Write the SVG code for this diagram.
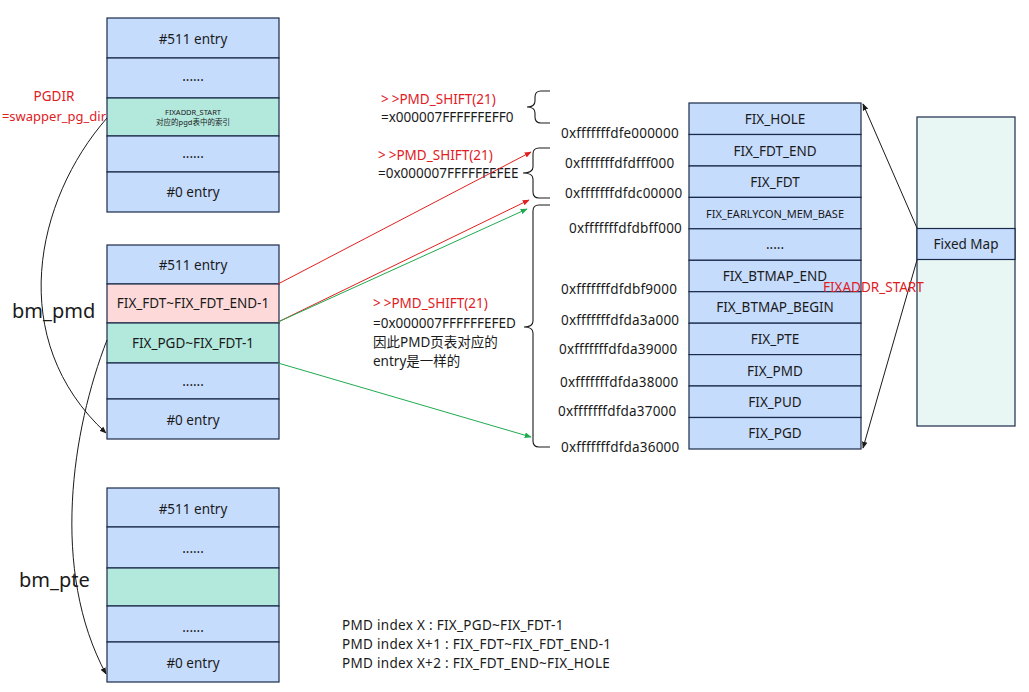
<svg xmlns="http://www.w3.org/2000/svg" width="1029" height="692" viewBox="0 0 1029 692">
<style>
text{font-family:"Noto Sans","Noto Sans CJK SC",sans-serif;fill:#1a1a1a;font-size:13.5px}
.c{text-anchor:middle}
.red{fill:#e0201f}
.b{fill:#c6dcfd;stroke:#1b2a4a;stroke-width:1.2}
.g{fill:#b3e8dd;stroke:#1b2a4a;stroke-width:1.2}
.p{fill:#fdd9d9;stroke:#1b2a4a;stroke-width:1.2}
.l{fill:#e8f7f4;stroke:#1b2a4a;stroke-width:1.2}
.big{font-size:20px}
.addr{font-size:13.5px;letter-spacing:0.2px}
.note{font-size:13.5px;letter-spacing:0.3px}
</style>
<defs>
<marker id="ak" viewBox="0 0 10 10" refX="9" refY="5" markerWidth="7" markerHeight="7" orient="auto-start-reverse"><path d="M0,1 L10,5 L0,9 Z" fill="#1a1a1a"/></marker>
<marker id="ar" viewBox="0 0 10 10" refX="9" refY="5" markerWidth="7" markerHeight="7" orient="auto"><path d="M0,1 L10,5 L0,9 Z" fill="#e0201f"/></marker>
<marker id="ag" viewBox="0 0 10 10" refX="9" refY="5" markerWidth="7" markerHeight="7" orient="auto"><path d="M0,1 L10,5 L0,9 Z" fill="#1faa4f"/></marker>
</defs>
<rect width="1029" height="692" fill="#ffffff"/>

<g id="pgd-table">
<rect class="b" x="107" y="18" width="172" height="40"/>
<rect class="b" x="107" y="58" width="172" height="40"/>
<rect class="g" x="107" y="98" width="172" height="38"/>
<rect class="b" x="107" y="136" width="172" height="36"/>
<rect class="b" x="107" y="172" width="172" height="40"/>
<text class="c" x="193" y="44">#511 entry</text>
<text class="c" x="193" y="81">......</text>
<text class="c" x="193" y="115" style="font-size:7.5px">FIXADDR_START</text>
<text class="c" x="193" y="125" style="font-size:7.5px">对应的pgd表中的索引</text>
<text class="c" x="193" y="158">......</text>
<text class="c" x="193" y="197">#0 entry</text>
</g>

<g id="pgdir-label">
<text class="c red" x="54" y="101">PGDIR</text>
<text class="c red" x="54" y="121" style="font-size:13px">=swapper_pg_dir</text>
</g>

<g id="pmd-table">
<rect class="b" x="107" y="245" width="172" height="39"/>
<rect class="p" x="107" y="284" width="172" height="39"/>
<rect class="g" x="107" y="323" width="172" height="40"/>
<rect class="b" x="107" y="363" width="172" height="36"/>
<rect class="b" x="107" y="399" width="172" height="40"/>
<text class="c" x="193" y="270">#511 entry</text>
<text class="c" x="193" y="308">FIX_FDT~FIX_FDT_END-1</text>
<text class="c" x="193" y="348">FIX_PGD~FIX_FDT-1</text>
<text class="c" x="193" y="386">......</text>
<text class="c" x="193" y="425">#0 entry</text>
</g>
<text class="big" x="12" y="318">bm_pmd</text>

<g id="pte-table">
<rect class="b" x="107" y="488" width="172" height="39"/>
<rect class="b" x="107" y="527" width="172" height="41"/>
<rect class="g" x="107" y="568" width="172" height="38"/>
<rect class="b" x="107" y="606" width="172" height="36"/>
<rect class="b" x="107" y="642" width="172" height="40"/>
<text class="c" x="193" y="514">#511 entry</text>
<text class="c" x="193" y="553">......</text>
<text class="c" x="193" y="632">......</text>
<text class="c" x="193" y="668">#0 entry</text>
</g>
<text class="big" x="19" y="587">bm_pte</text>

<g id="shift-notes">
<text x="381" y="104"><tspan class="red" letter-spacing="3">&gt;</tspan><tspan class="red">&gt;PMD_SHIFT(21)</tspan></text>
<text x="381" y="122">=x000007FFFFFFEFF0</text>
<text x="378" y="160"><tspan class="red" letter-spacing="3">&gt;</tspan><tspan class="red">&gt;PMD_SHIFT(21)</tspan></text>
<text x="378" y="178">=0x000007FFFFFFEFEE</text>
<text x="373" y="308"><tspan class="red" letter-spacing="3">&gt;</tspan><tspan class="red">&gt;PMD_SHIFT(21)</tspan></text>
<text x="373" y="328">=0x000007FFFFFFEFED</text>
<text x="373" y="347">因此PMD页表对应的</text>
<text x="373" y="366">entry是一样的</text>
</g>

<g id="braces" fill="none" stroke="#1a1a1a" stroke-width="1.1">
<path d="M550,91 H541 Q535,91 535,97 V101 Q535,107 527,107 Q535,107 535,113 V117 Q535,123 541,123 H550"/>
<path d="M550,148 H539 Q533,148 533,154 V167 Q533,173 523,173 Q533,173 533,179 V192 Q533,198 539,198 H550"/>
<path d="M550,205 H539 Q533,205 533,211 V321 Q533,327 524,327 Q533,327 533,333 V441 Q533,447 539,447 H550"/>
</g>

<g id="addresses" class="addr">
<text x="561" y="138">0xfffffffdfe000000</text>
<text x="565" y="168">0xfffffffdfdfff000</text>
<text x="565" y="198">0xfffffffdfdc00000</text>
<text x="569" y="233">0xfffffffdfdbff000</text>
<text x="561" y="294">0xfffffffdfdbf9000</text>
<text x="561" y="325">0xfffffffdfda3a000</text>
<text x="559" y="354">0xfffffffdfda39000</text>
<text x="560" y="387">0xfffffffdfda38000</text>
<text x="558" y="416">0xfffffffdfda37000</text>
<text x="561" y="452">0xfffffffdfda36000</text>
</g>

<g id="fixmap-table">
<rect class="b" x="689" y="103" width="172" height="31.5"/>
<rect class="b" x="689" y="134.5" width="172" height="31.5"/>
<rect class="b" x="689" y="166" width="172" height="31.4"/>
<rect class="b" x="689" y="197.4" width="172" height="31.4"/>
<rect class="b" x="689" y="228.8" width="172" height="31.5"/>
<rect class="b" x="689" y="260.3" width="172" height="31.4"/>
<rect class="b" x="689" y="291.7" width="172" height="31.5"/>
<rect class="b" x="689" y="323.2" width="172" height="31.4"/>
<rect class="b" x="689" y="354.6" width="172" height="31.4"/>
<rect class="b" x="689" y="386" width="172" height="31.5"/>
<rect class="b" x="689" y="417.5" width="172" height="31.5"/>
<text class="c" x="775" y="124">FIX_HOLE</text>
<text class="c" x="775" y="156">FIX_FDT_END</text>
<text class="c" x="775" y="187">FIX_FDT</text>
<text class="c" x="775" y="218" style="font-size:11px">FIX_EARLYCON_MEM_BASE</text>
<text class="c" x="775" y="249">.....</text>
<text class="c" x="775" y="281">FIX_BTMAP_END</text>
<text class="c" x="775" y="312">FIX_BTMAP_BEGIN</text>
<text class="c" x="775" y="344">FIX_PTE</text>
<text class="c" x="775" y="376">FIX_PMD</text>
<text class="c" x="775" y="407">FIX_PUD</text>
<text class="c" x="775" y="438">FIX_PGD</text>
</g>

<g id="fixed-map">
<rect class="l" x="917" y="117" width="98" height="309"/>
<rect class="b" x="917" y="228.5" width="98" height="31"/>
<text class="c" x="966" y="249">Fixed Map</text>
</g>

<g id="connectors" fill="none" stroke-width="1">
<path d="M278,284 L531,152" stroke="#e0201f" marker-end="url(#ar)"/>
<path d="M278,322 L529,200" stroke="#e0201f" marker-end="url(#ar)"/>
<path d="M278,322 L527,209" stroke="#1faa4f" marker-end="url(#ag)"/>
<path d="M278,363 L531,437" stroke="#1faa4f" marker-end="url(#ag)"/>
<path d="M917,228 L863,104" stroke="#1a1a1a" marker-end="url(#ak)"/>
<path d="M917,260 L863,448" stroke="#1a1a1a" marker-end="url(#ak)"/>
<path d="M107,118 C35,200 5,340 106,433" stroke="#1a1a1a" marker-end="url(#ak)"/>
<path d="M107,340 C72,430 50,570 106,674" stroke="#1a1a1a" marker-end="url(#ak)"/>
</g>

<text class="red" x="823" y="292">FIXADDR_START</text>

<g id="pmd-index-notes" class="note">
<text x="342" y="630" class="note">PMD index X : FIX_PGD~FIX_FDT-1</text>
<text x="342" y="649" class="note">PMD index X+1 : FIX_FDT~FIX_FDT_END-1</text>
<text x="342" y="668" class="note">PMD index X+2 : FIX_FDT_END~FIX_HOLE</text>
</g>
</svg>
